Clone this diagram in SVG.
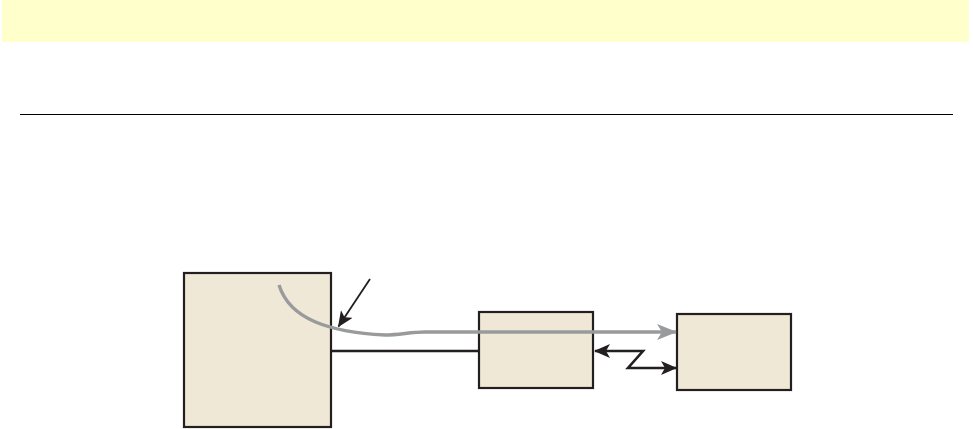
<svg xmlns="http://www.w3.org/2000/svg" width="973" height="429" viewBox="0 0 973 429">
<style>
.node{fill:#f0e8d6;stroke:#231f20;stroke-width:2.2}
.blk{fill:none;stroke:#231f20;stroke-width:2.6}
.gry{fill:none;stroke:#999a9c;stroke-width:3.4}
</style>
<defs>
<marker id="ahl" markerWidth="16" markerHeight="14" refX="15" refY="7" orient="auto-start-reverse" markerUnits="userSpaceOnUse" viewBox="0 0 16 14">
<path d="M0,0 L16,7 L0,14 L4,7 Z" fill="#231f20"/>
</marker>
<marker id="ahg" markerWidth="20" markerHeight="16" refX="19" refY="8" orient="auto" markerUnits="userSpaceOnUse" viewBox="0 0 20 16">
<path d="M0,0 L20,8 L0,16 L5,8 Z" fill="#999a9c"/>
</marker>
</defs>
<rect x="2" y="0" width="967" height="42" fill="#ffffcc"/>
<line x1="20" y1="114.5" x2="953" y2="114.5" stroke="#000" stroke-width="1.2"/>
<g id="node-left"><rect class="node" x="184" y="273" width="147" height="154"/></g>
<g id="node-mid"><rect class="node" x="479" y="312" width="114" height="76"/></g>
<g id="node-right"><rect class="node" x="677" y="314" width="114" height="76"/></g>
<g id="connectors">
<line class="blk" x1="331" y1="351" x2="479" y2="351"/>
<path class="gry" d="M279,285 C290,320 330,332 385,335 C400,335 410,332 425,332 L676,332" marker-end="url(#ahg)"/>
<line x1="370" y1="279" x2="338.5" y2="326.5" stroke="#231f20" stroke-width="1.8" marker-end="url(#ahl)"/>
<path class="blk" d="M595,351 L643,351 L628,368 L676,368" marker-start="url(#ahl)" marker-end="url(#ahl)"/>
</g>
</svg>
